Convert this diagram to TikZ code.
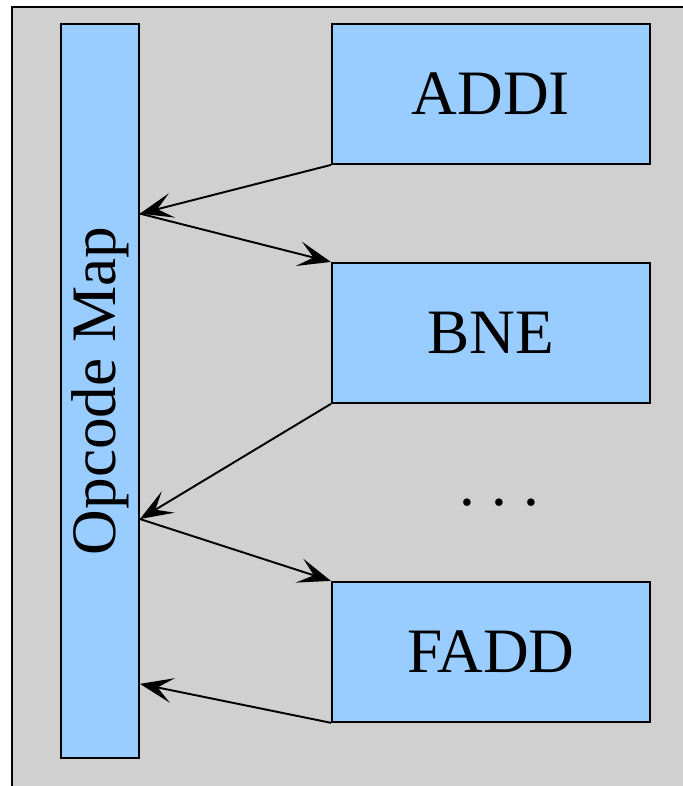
\documentclass[tikz,border=0pt]{standalone}
\usepackage{fontspec}
\setmainfont{Liberation Serif}
\usetikzlibrary{arrows.meta, positioning, calc}
\definecolor{panelgray}{HTML}{D0D0D0}
\definecolor{boxblue}{HTML}{99CCFF}

\begin{document}
\begin{tikzpicture}[
    every node/.style={font=\fontsize{36}{40}\selectfont},
    mapbar/.style={rectangle, minimum width=1.56cm, minimum height=14.68cm, inner sep=0pt,
                   text centered, draw=black, fill=boxblue, line width=1.1pt},
    opbox/.style={rectangle, minimum width=6.36cm, minimum height=2.8cm,
                  text centered, draw=black, fill=boxblue, line width=1.1pt},
    arrow/.style={-{Stealth[length=0.66cm, width=0.5cm, inset=0.3cm]}, line width=1.1pt}
]

% Panel
\useasboundingbox (0,0) rectangle (13.66,-15.72);
\fill [panelgray] (0.24,-0.14) rectangle (13.66,-15.72);
\draw [line width=1.1pt] (0.24,-15.72) -- (0.24,-0.14) -- (13.66,-0.14);

% Map and opcodes
\node (map) [mapbar, anchor=north west] at (1.2,-0.46) {\rotatebox{90}{Opcode Map}};
\node (addi) [opbox, right=3.82cm of map.north east, anchor=north west] {ADDI};
\node (bne) [opbox, below=1.94cm of addi] {BNE};
\node (fadd) [opbox, below=3.54cm of bne] {FADD};
\node (dots) [below=2.04cm of bne.south, anchor=base, xshift=0.17cm] {.\ .\ .};

% Hubs on the map
\coordinate (hub1) at ($(map.north east)!0.259!(map.south east)$);
\coordinate (hub2) at ($(map.north east)!0.674!(map.south east)$);
\coordinate (hub3) at ($(map.north east)!0.898!(map.south east)$);

% Arrows
\draw [arrow] (addi.south west) -- (hub1);
\draw [arrow] (hub1) -- (bne.north west);
\draw [arrow] (bne.south west) -- (hub2);
\draw [arrow] (hub2) -- (fadd.north west);
\draw [arrow] (fadd.south west) -- (hub3);

\end{tikzpicture}
\end{document}
